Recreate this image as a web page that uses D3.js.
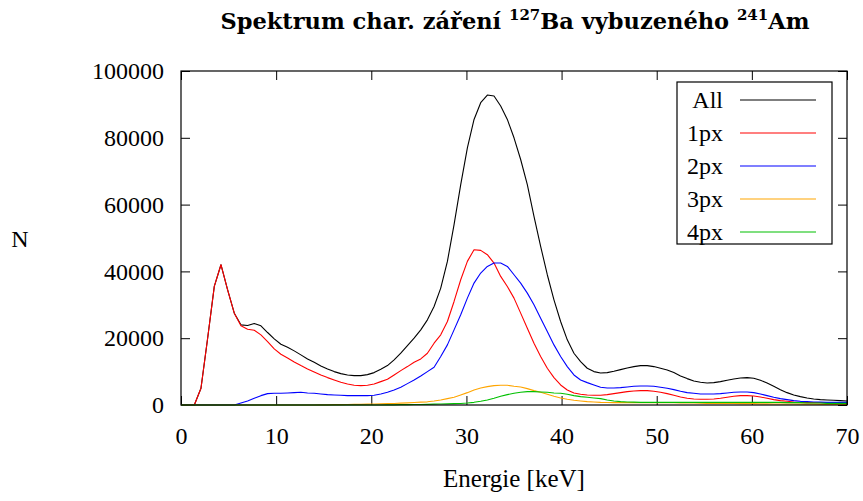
<!DOCTYPE html>
<html>
<head>
<meta charset="utf-8">
<script src="https://cdn.jsdelivr.net/npm/d3@7"></script>
<style>
  body { margin: 0; background: #fff; }
  text { font-family: "Liberation Serif", serif; fill: #000; }
</style>
</head>
<body>
<div id="chartDiv"></div>
<script>
  // energy grid in keV (channel step ~0.7 keV)
  const energy = d3.range(0, 101).map(i => +(i * 0.7).toFixed(1));

  const seriesNames = ["All", "1px", "2px", "3px", "4px"];
  const seriesColors = ["#000000", "#ff0000", "#0000ff", "#ffa500", "#00c000"];

  const countsAll = [
    0, 0, 0, 5000, 20000, 35500, 42000, 34500, 27500, 24000,
    23800, 24400, 23700, 21700, 19800, 18200, 17300, 16200, 15000, 13800,
    12800, 11700, 10800, 10000, 9400, 9000, 8800, 8800, 9100, 9700,
    10700, 11800, 13500, 15500, 17800, 20000, 22500, 25500, 29500, 35000,
    43000, 54000, 66000, 77000, 85500, 90500, 92800, 92500, 89500, 85500,
    80000, 73500, 66000, 56500, 47500, 39000, 31500, 25000, 19500, 15500,
    13000, 11000, 10000, 9600, 9700, 10100, 10600, 11100, 11500, 11800,
    11800, 11500, 11000, 10500, 9700, 8700, 7900, 7200, 6800, 6600,
    6700, 7000, 7400, 7800, 8100, 8200, 8000, 7400, 6600, 5600,
    4600, 3700, 3000, 2500, 2100, 1800, 1600, 1500, 1400, 1300,
    1200
  ];

  const counts1px = [
    0, 0, 0, 5000, 20000, 35500, 42000, 34500, 27500, 23700,
    22700, 22400, 21000, 19000, 16800, 15200, 14100, 12900, 11800, 10800,
    9900, 9000, 8200, 7500, 6800, 6300, 5900, 5800, 5900, 6300,
    7000, 7700, 9000, 10300, 11500, 12800, 13800, 15500, 18500, 21000,
    25000, 31000, 37500, 43000, 46500, 46300, 45000, 42500, 38500, 35500,
    32000, 27500, 23000, 18500, 14500, 11000, 8200, 6000, 4500, 3600,
    3200, 3000, 2900, 2900, 3100, 3400, 3700, 4000, 4200, 4300,
    4300, 4100, 3800, 3400, 2900, 2400, 2000, 1800, 1700, 1700,
    1800, 2000, 2300, 2600, 2800, 2800, 2700, 2400, 2000, 1600,
    1300, 1100, 900, 800, 700, 700, 700, 700, 700, 700,
    700
  ];

  const counts2px = [
    0, 0, 0, 0, 0, 0, 0, 0, 0, 600,
    1200, 2000, 2800, 3400, 3500, 3500, 3600, 3700, 3800, 3600,
    3500, 3300, 3100, 3000, 2900, 2800, 2800, 2800, 2800, 2900,
    3300, 3800, 4500, 5300, 6400, 7500, 8700, 10000, 11300, 14500,
    18000, 22500, 27000, 32000, 36500, 39500, 41500, 42500, 42500, 41500,
    39000, 36500, 33500, 30000, 26000, 22000, 18000, 14500, 11500, 9000,
    7500, 6700, 6000, 5300, 5100, 5100, 5200, 5400, 5600, 5700,
    5700, 5600, 5300, 5000, 4600, 4100, 3700, 3500, 3300, 3300,
    3300, 3400, 3600, 3800, 3900, 3900, 3700, 3300, 2800, 2300,
    1900, 1600, 1300, 1100, 1000, 900, 850, 800, 800, 800,
    800
  ];

  const counts3px = [
    0, 0, 0, 0, 0, 0, 0, 0, 0, 0,
    0, 0, 0, 0, 0, 0, 0, 0, 0, 0,
    0, 50, 50, 100, 100, 150, 200, 200, 250, 300,
    350, 400, 450, 550, 650, 750, 850, 950, 1200, 1500,
    1900, 2300, 3000, 3700, 4500, 5100, 5500, 5800, 5900, 5900,
    5600, 5400, 4900, 4300, 3800, 3200, 2600, 2100, 1700, 1400,
    1200, 1000, 900, 800, 750, 700, 700, 700, 700, 700,
    700, 700, 700, 700, 700, 650, 600, 600, 550, 500,
    500, 500, 450, 450, 400, 400, 400, 350, 350, 300,
    300, 300, 300, 250, 250, 250, 200, 200, 200, 200,
    200
  ];

  const counts4px = [
    0, 0, 0, 0, 0, 0, 0, 0, 0, 0,
    0, 0, 0, 0, 0, 0, 0, 0, 0, 0,
    0, 0, 0, 0, 0, 0, 0, 0, 0, 0,
    0, 50, 50, 100, 100, 150, 150, 200, 250, 300,
    350, 400, 450, 600, 800, 1100, 1500, 2000, 2600, 3100,
    3500, 3800, 4000, 4000, 3900, 3800, 3600, 3500, 3200, 2800,
    2500, 2300, 2100, 1900, 1500, 1200, 1000, 900, 850, 800,
    800, 800, 800, 800, 800, 800, 800, 800, 800, 800,
    800, 800, 800, 800, 800, 800, 800, 800, 800, 800,
    800, 700, 700, 700, 600, 600, 600, 500, 500, 500,
    500
  ];

  const xTicks = [0, 10, 20, 30, 40, 50, 60, 70];
  const yTicks = [0, 20000, 40000, 60000, 80000, 100000];

  const allSeries = [countsAll, counts1px, counts2px, counts3px, counts4px];

  // page size and plot box
  const W = 863, H = 501;
  const margin = { top: 71, right: 16, bottom: 96, left: 181 };
  const width = W - margin.left - margin.right,
        height = H - margin.top - margin.bottom;
  const fontSize = "24px";

  const svg = d3.select("#chartDiv")
      .append("svg")
      .attr("width", W)
      .attr("height", H);

  const g = svg.append("g")
      .attr("transform", "translate(" + margin.left + "," + margin.top + ")");

  const x = d3.scaleLinear().domain([0, 70]).range([0, width]);
  const y = d3.scaleLinear().domain([0, 100000]).range([height, 0]);

  // axes, gnuplot style: ticks inside, mirrored on the opposite side
  const tickLen = 9;
  const axB = g.append("g")
      .attr("transform", "translate(0," + height + ")")
      .call(d3.axisBottom(x).tickValues(xTicks).tickSize(-tickLen).tickPadding(tickLen + 13));
  const axT = g.append("g")
      .call(d3.axisTop(x).tickValues(xTicks).tickSize(-tickLen).tickFormat(""));
  const axL = g.append("g")
      .call(d3.axisLeft(y).tickValues(yTicks).tickSize(-tickLen).tickPadding(tickLen + 8).tickFormat(d3.format("d")));
  const axR = g.append("g")
      .attr("transform", "translate(" + width + ",0)")
      .call(d3.axisRight(y).tickValues(yTicks).tickSize(-tickLen).tickFormat(""));

  [axB, axT, axL, axR].forEach(a => {
      a.attr("font-family", null).attr("font-size", null);
      a.select(".domain").remove();
      a.selectAll("line").attr("stroke", "#000").attr("stroke-width", 1);
      a.selectAll("text").style("font-size", fontSize).attr("fill", "#000");
  });

  // curves
  const line = d3.line()
      .x((d, i) => x(energy[i]))
      .y(d => y(d));

  allSeries.forEach((s, k) => {
      g.append("path")
          .datum(s)
          .attr("fill", "none")
          .attr("stroke", seriesColors[k])
          .attr("stroke-width", 1.1)
          .attr("stroke-linejoin", "round")
          .attr("d", line);
  });

  // border
  g.append("rect")
      .attr("width", width)
      .attr("height", height)
      .attr("fill", "none")
      .attr("stroke", "#000")
      .attr("stroke-width", 1.2);

  // legend
  const lg = svg.append("g").attr("transform", "translate(677,82)");
  lg.append("rect")
      .attr("width", 155)
      .attr("height", 162)
      .attr("fill", "#fff")
      .attr("stroke", "#000")
      .attr("stroke-width", 1.2);
  seriesNames.forEach((name, k) => {
      const yy = 18 + k * 33;
      lg.append("text")
          .attr("x", 46)
          .attr("y", yy)
          .attr("dy", "0.33em")
          .attr("text-anchor", "end")
          .style("font-size", fontSize)
          .text(name);
      lg.append("line")
          .attr("x1", 63).attr("x2", 139)
          .attr("y1", yy).attr("y2", yy)
          .attr("stroke", seriesColors[k])
          .attr("stroke-width", 1.1);
  });

  // axis labels
  svg.append("text")
      .attr("x", 20).attr("y", 239)
      .attr("dy", "0.35em")
      .attr("text-anchor", "middle")
      .style("font-size", fontSize)
      .text("N");

  svg.append("text")
      .attr("x", margin.left + width / 2).attr("y", H - 14)
      .attr("text-anchor", "middle")
      .style("font-size", "25px")
      .text("Energie [keV]");

  // title with superscripted mass numbers
  const title = svg.append("text")
      .attr("x", margin.left + width / 2 + 1).attr("y", 29)
      .attr("text-anchor", "middle")
      .style("font-family", "'DejaVu Serif', serif")
      .style("font-size", "22.5px")
      .style("font-weight", "bold");
  title.append("tspan").text("Spektrum char. záření ");
  title.append("tspan").attr("dy", -9).style("font-size", "15px").text("127");
  title.append("tspan").attr("dy", 9).text("Ba vybuzeného ");
  title.append("tspan").attr("dy", -9).style("font-size", "15px").text("241");
  title.append("tspan").attr("dy", 9).text("Am");
</script>
</body>
</html>
